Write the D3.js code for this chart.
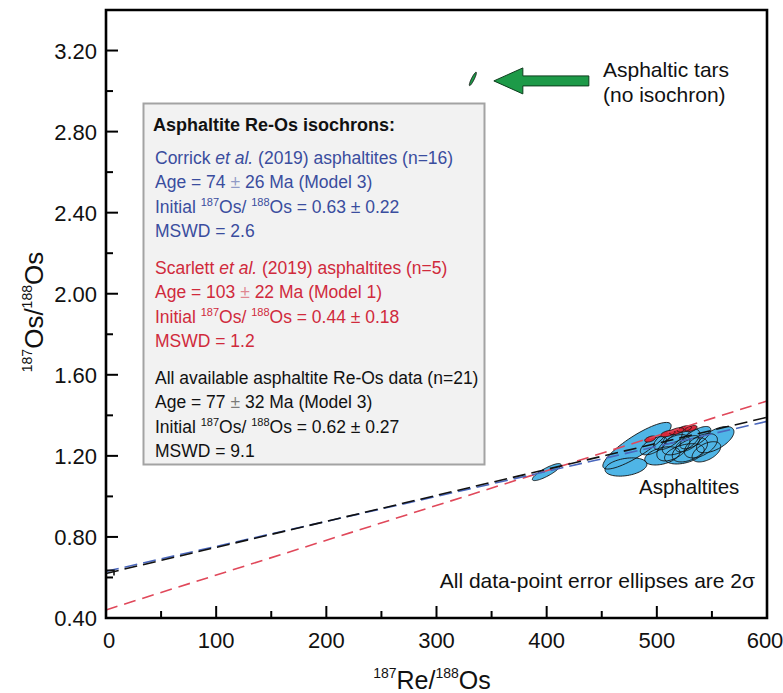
<!DOCTYPE html>
<html><head><meta charset="utf-8">
<script src="https://cdn.jsdelivr.net/npm/d3@7"></script>
<style>body{margin:0;background:#fff} svg{display:block;font-family:"Liberation Sans",Arial,Helvetica,sans-serif}</style>
</head><body><svg id="c" width="783" height="693"></svg>
<script>
// ---------- data ----------
const xTicks = [0, 100, 200, 300, 400, 500, 600];
const xMinor = [50, 150, 250, 350, 450, 550];
const yTicks = [0.40, 0.80, 1.20, 1.60, 2.00, 2.40, 2.80, 3.20];
const yMinor = [0.60, 1.00, 1.40, 1.80, 2.20, 2.60, 3.00, 3.40];

// Corrick et al. (2019) asphaltites (n=16): centre, 2σ half-widths, error correlation
const corrickRe  = [400, 482, 472, 505, 553, 497, 515, 522, 530, 535, 510, 540, 525, 518, 545, 528];
const corrickOs  = [1.12, 1.25, 1.145, 1.20, 1.28, 1.25, 1.24, 1.27, 1.23, 1.29, 1.28, 1.25, 1.21, 1.30, 1.22, 1.26];
const corrickSRe = [13, 31, 19, 16, 17, 12, 15, 17, 16, 14, 13, 15, 18, 12, 13, 11];
const corrickSOs = [0.042, 0.115, 0.045, 0.045, 0.065, 0.045, 0.065, 0.065, 0.06, 0.055, 0.05, 0.06, 0.05, 0.04, 0.05, 0.04];
const corrickRho = [0.85, 0.86, 0.3, 0.4, 0.6, 0.6, 0.5, 0.6, 0.5, 0.7, 0.6, 0.5, 0.4, 0.7, 0.5, 0.6];

// Scarlett et al. (2019) asphaltites (n=5)
const scarlettRe  = [494, 510, 518, 525, 531];
const scarlettOs  = [1.283, 1.31, 1.322, 1.333, 1.335];
const scarlettSRe = [5, 6.5, 6.5, 6.5, 5.5];
const scarlettSOs = [0.015, 0.016, 0.017, 0.016, 0.015];
const scarlettRho = [0.5, 0.5, 0.5, 0.5, 0.5];

// Asphaltic tars
const tarRe = [333], tarOs = [3.06], tarSRe = [3.2], tarSOs = [0.033], tarRho = [0.9];

// Isochrons
const isoNames   = ["Scarlett", "Corrick", "All"];
const isoInitial = [0.44, 0.63, 0.62];
const isoAge     = [103, 74, 77];      // Ma
const isoColor   = ["#e0485a", "#4a67bd", "#111111"];
const lambda = 1.666e-11;

// Legend text
const legendTitle = "Asphaltite Re-Os isochrons:";
const legendGroups = [
  {color: "#3a4d9e", head: ["Corrick ", "et al.", " (2019) asphaltites (n=16)"], age: ["74", "26", "(Model 3)"], init: ["0.63", "0.22"], mswd: "2.6"},
  {color: "#d02a3c", head: ["Scarlett ", "et al.", " (2019) asphaltites (n=5)"], age: ["103", "22", "(Model 1)"], init: ["0.44", "0.18"], mswd: "1.2"},
  {color: "#111111", head: ["All available asphaltite Re-Os data (n=21)", "", ""], age: ["77", "32", "(Model 3)"], init: ["0.62", "0.27"], mswd: "9.1"}
];

// ---------- layout ----------
const W = 783, H = 693;
const m = {left: 106, top: 10, right: 16, bottom: 75};
const svg = d3.select("#c");
const x = d3.scaleLinear().domain([0, 600]).range([m.left, W - m.right]);
const y = d3.scaleLinear().domain([0.4, 3.4]).range([H - m.bottom, m.top]);

function ellipsePts(cx, cy, sx, sy, rho) {
  const pts = [];
  const s = Math.sqrt(1 - rho * rho);
  for (let i = 0; i < 72; i++) {
    const t = i / 72 * 2 * Math.PI;
    pts.push([x(cx + sx * Math.cos(t)), y(cy + sy * (rho * Math.cos(t) + s * Math.sin(t)))]);
  }
  return pts;
}
const closed = d3.line().curve(d3.curveLinearClosed);

function drawEllipses(g, re, os, sre, sos, rho, fill) {
  const d = re.map((v, i) => ellipsePts(v, os[i], sre[i], sos[i], rho[i]));
  g.selectAll(null).data(d).enter().append("path")
    .attr("d", closed).attr("fill", fill).attr("stroke", "none");
  g.selectAll(null).data(d).enter().append("path")
    .attr("d", closed).attr("fill", "none").attr("stroke", "#111").attr("stroke-width", 0.9);
}

// ---------- legend box ----------
const box = svg.append("g");
box.append("rect").attr("x", 143.5).attr("y", 103.5).attr("width", 341).attr("height", 361)
  .attr("fill", "#f2f2f2").attr("stroke", "#a3a3a3").attr("stroke-width", 2);
box.append("text").attr("x", 153).attr("y", 131).attr("font-size", 18).attr("font-weight", "bold")
  .attr("fill", "#111").text(legendTitle);

const lx = 155, lh = 24.3;
legendGroups.forEach((g, gi) => {
  const base = 164 + gi * 110;
  const t1 = box.append("text").attr("x", lx).attr("y", base).attr("font-size", 17.5).attr("fill", g.color);
  t1.append("tspan").text(g.head[0]);
  if (g.head[1]) t1.append("tspan").attr("font-style", "italic").text(g.head[1]);
  if (g.head[2]) t1.append("tspan").text(g.head[2]);

  const t2 = box.append("text").attr("x", lx).attr("y", base + lh).attr("font-size", 17.5).attr("fill", g.color);
  t2.append("tspan").text("Age = " + g.age[0] + " ");
  t2.append("tspan").attr("fill-opacity", 0.55).text("±");
  t2.append("tspan").text(" " + g.age[1] + " Ma " + g.age[2]);

  const t3 = box.append("text").attr("x", lx).attr("y", base + 2 * lh).attr("font-size", 17.5).attr("fill", g.color);
  t3.append("tspan").text("Initial ");
  t3.append("tspan").attr("font-size", 11).attr("dy", -7).text("187");
  t3.append("tspan").attr("dy", 7).text("Os/ ");
  t3.append("tspan").attr("font-size", 11).attr("dy", -7).text("188");
  t3.append("tspan").attr("dy", 7).text("Os = " + g.init[0] + " ± " + g.init[1]);

  box.append("text").attr("x", lx).attr("y", base + 3 * lh).attr("font-size", 17.5).attr("fill", g.color)
    .text("MSWD = " + g.mswd);
});

// ---------- ellipses ----------
const eg = svg.append("g");
drawEllipses(eg, corrickRe, corrickOs, corrickSRe, corrickSOs, corrickRho, "#4fb5e6");
drawEllipses(eg, scarlettRe, scarlettOs, scarlettSRe, scarlettSOs, scarlettRho, "#d8283a");
drawEllipses(eg, tarRe, tarOs, tarSRe, tarSOs, tarRho, "#1d9a48");

// ---------- isochron lines ----------
const lg = svg.append("g");
isoNames.forEach((n, i) => {
  const slope = Math.exp(lambda * isoAge[i] * 1e6) - 1;
  const pts = [0, 600].map(r => [x(r), y(isoInitial[i] + slope * r)]);
  lg.append("path").attr("d", d3.line()(pts)).attr("fill", "none")
    .attr("stroke", isoColor[i]).attr("stroke-width", 1.6)
    .attr("stroke-dasharray", n === "Scarlett" ? "12,7" : "13,6");
});
lg.append("path")
  .attr("d", `M${x(0)},${y(isoInitial[2]) - 3} L${x(0) + 8},${y(isoInitial[2]) - 3} L${x(0) + 8},${y(isoInitial[2]) + 2}`)
  .attr("fill", "none").attr("stroke", "#111").attr("stroke-width", 1.6);

// ---------- arrow ----------
const ax = x(tarRe[0]) + 21, ay = y(tarOs[0]) + 2;
svg.append("path")
  .attr("d", `M${ax},${ay} L${ax + 29},${ay - 13} L${ax + 29},${ay - 5} L${ax + 95},${ay - 5} L${ax + 95},${ay + 5} L${ax + 29},${ay + 5} L${ax + 29},${ay + 13} Z`)
  .attr("fill", "#1d9a48").attr("stroke", "#0d3d1d").attr("stroke-width", 1);

// ---------- annotations ----------
svg.append("text").attr("x", 603).attr("y", 77).attr("font-size", 21).attr("fill", "#111").text("Asphaltic tars");
svg.append("text").attr("x", 603).attr("y", 102).attr("font-size", 21).attr("fill", "#111").text("(no isochron)");
svg.append("text").attr("x", 639).attr("y", 494).attr("font-size", 20.5).attr("fill", "#111").text("Asphaltites");
const note = svg.append("text").attr("x", 755).attr("y", 588).attr("font-size", 21).attr("fill", "#111").attr("text-anchor", "end");
note.append("tspan").text("All data-point error ellipses are 2");
note.append("tspan").text("σ");

// ---------- axes ----------
const ax0 = svg.append("g");
const x0 = x(0), x1 = x(600), y0 = y(0.4), y1 = y(3.4);
ax0.append("path").attr("d", `M${x0},${y1} L${x1},${y1} L${x1},${y0} L${x0},${y0} Z`)
  .attr("fill", "none").attr("stroke", "#000").attr("stroke-width", 2.6);
ax0.selectAll(null).data(xTicks).enter().append("line")
  .attr("x1", d => x(d)).attr("x2", d => x(d)).attr("y1", y0).attr("y2", y0 - 12)
  .attr("stroke", "#000").attr("stroke-width", 2);
ax0.selectAll(null).data(xMinor).enter().append("line")
  .attr("x1", d => x(d)).attr("x2", d => x(d)).attr("y1", y0).attr("y2", y0 - 7)
  .attr("stroke", "#000").attr("stroke-width", 2);
ax0.selectAll(null).data(xTicks).enter().append("text")
  .attr("x", d => x(d) + (d === 0 ? 3 : 0) - (d === 600 ? 2 : 0)).attr("y", y0 + 30).attr("text-anchor", "middle")
  .attr("font-size", 22).attr("fill", "#111").text(d => d);
ax0.selectAll(null).data(yTicks).enter().append("line")
  .attr("x1", x0).attr("x2", x0 + 12).attr("y1", d => y(d)).attr("y2", d => y(d))
  .attr("stroke", "#000").attr("stroke-width", 2);
ax0.selectAll(null).data(yMinor).enter().append("line")
  .attr("x1", x0).attr("x2", x0 + 7).attr("y1", d => y(d)).attr("y2", d => y(d))
  .attr("stroke", "#000").attr("stroke-width", 2);
ax0.selectAll(null).data(yTicks).enter().append("text")
  .attr("x", x0 - 9).attr("y", d => y(d) + 8).attr("text-anchor", "end")
  .attr("font-size", 22).attr("fill", "#111").text(d => d3.format(".2f")(d));

// axis titles
const xt = svg.append("text").attr("x", 432).attr("y", 689).attr("text-anchor", "middle").attr("font-size", 25).attr("fill", "#111");
xt.append("tspan").attr("font-size", 14).attr("dy", -11).text("187");
xt.append("tspan").attr("dy", 11).text("Re/");
xt.append("tspan").attr("font-size", 14).attr("dy", -11).text("188");
xt.append("tspan").attr("dy", 11).text("Os");

const yt = svg.append("text").attr("transform", "translate(43,312) rotate(-90)").attr("text-anchor", "middle").attr("font-size", 26).attr("fill", "#111");
yt.append("tspan").attr("font-size", 14).attr("dy", -11).text("187");
yt.append("tspan").attr("dy", 11).text("Os/");
yt.append("tspan").attr("font-size", 14).attr("dy", -11).text("188");
yt.append("tspan").attr("dy", 11).text("Os");
</script></body></html>
